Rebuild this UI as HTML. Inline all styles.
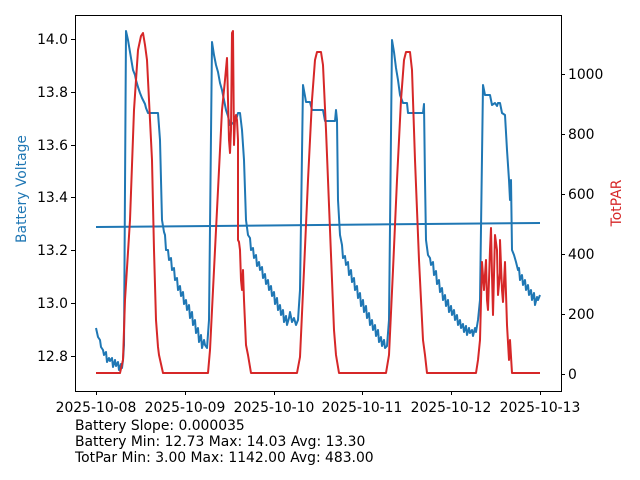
<!DOCTYPE html>
<html><head><style>body{margin:0;background:#fff}svg{display:block}text{font-family:"DejaVu Sans","Liberation Sans",sans-serif;font-size:13.9px;fill:#000}</style></head><body>
<svg width="640" height="480" viewBox="0 0 640 480" xmlns="http://www.w3.org/2000/svg">
<rect width="640" height="480" fill="#fff"/>
<g fill="none" stroke-width="2" stroke-linejoin="round">
<polyline stroke="#1f77b4" points="96,227 540,223"/>
<polyline stroke="#1f77b4" points="96,328 98,337 100,340 101,347 103,350 104,355 106,352 107,362 109,358 110,361 112,358 113,367 115,360 116,366 118,362 119,370 121,364 122,368 123,360 124,345 126,31 128,40 131,58 133,70 135,75 136,80 138,87 140,93 142,98 143,100 145,104 146,108 148,113 158,113 160,140 162,220 164,232 165,235 166,250 168,250 169,260 171,258 172,270 174,268 175,280 177,278 178,290 180,286 181,296 183,292 184,304 186,300 187,310 189,305 190,318 192,312 193,325 195,320 196,333 198,328 199,342 201,335 202,348 204,340 205,345 207,348 209,320 212,42 214,55 216,65 218,72 220,83 222,90 224,100 226,110 228,116 230,125 233,123 236,120 238,113 240,113 242,130 244,160 246,220 248,235 250,238 251,250 253,248 254,258 256,255 257,266 259,262 260,270 262,267 263,278 265,274 266,284 268,280 269,290 271,286 272,296 274,292 275,304 277,298 278,310 280,305 281,315 283,310 284,322 286,316 287,325 289,318 290,312 292,322 294,318 296,325 298,320 300,290 303,85 305,96 306,102 310,102 312,110 323,110 325,121 335,121 336,110 337,120 338,200 340,235 342,245 343,258 345,256 346,265 348,262 349,275 351,270 352,282 354,278 355,290 357,286 358,298 360,293 361,306 363,300 364,312 366,306 367,318 369,313 370,325 372,320 373,330 375,325 376,336 378,330 379,342 381,337 382,346 384,340 385,348 387,346 389,320 392,40 394,52 396,68 398,80 400,95 403,103 407,103 408,113 423,113 424,104 425,180 426,240 428,255 430,258 431,265 433,262 434,275 436,271 437,284 439,280 440,292 442,288 443,300 445,295 446,306 448,300 449,312 451,306 452,315 454,310 455,320 457,315 458,325 460,320 461,328 463,324 464,332 466,326 467,335 469,328 470,333 472,330 473,336 475,328 476,332 478,320 480,300 483,85 485,95 490,95 492,105 495,103 497,106 498,103 500,103 502,113 505,115 507,150 509,180 510,200 511,180 512,250 514,255 516,262 518,270 519,268 520,280 522,275 523,285 525,280 526,290 528,285 529,295 531,290 532,300 534,293 535,305 537,297 538,300 540,295"/>
<polyline stroke="#d62728" points="96,373 120,373 123,360 125,300 130,220 134,110 138,50 141,36 143,33 145,45 147,60 149,100 152,160 154,250 156,320 158,347 159,355 163,373 208,373 210,350 214,270 218,190 222,110 225,80 227,58 228,100 229,140 230,153 231,130 232,33 233,31 234,145 235,120 236,115 237,120 238,140 238,240 239,242 240,250 241,280 242,290 243,270 244,300 246,345 248,355 251,373 297,373 300,357 304,270 308,180 312,100 315,60 317,52 321,52 323,65 326,130 330,230 334,330 336,355 339,373 386,373 389,355 393,270 397,180 401,100 404,60 406,52 410,52 412,70 415,160 419,260 423,340 425,355 427,373 476,373 478,360 480,340 482,262 484,290 486,260 487,300 488,310 490,250 491,228 492,275 493,315 495,235 497,250 498,295 500,273 500,240 502,290 503,302 505,262 507,325 509,360 510,340 512,373 540,373"/>
</g>
<rect x="75.5" y="15.5" width="486" height="376" fill="none" stroke="#000" stroke-width="1"/>
<g stroke="#000" stroke-width="1">
<path d="M75 356.5h-4M75 303.5h-4M75 250.5h-4M75 197.5h-4M75 145.5h-4M75 92.5h-4M75 39.5h-4"/>
<path d="M561 374.5h4M561 314.5h4M561 254.5h4M561 194.5h4M561 134.5h4M561 74.5h4"/>
<path d="M96.5 391v4M185.5 391v4M274.5 391v4M362.5 391v4M451.5 391v4M540.5 391v4"/>
</g>
<g text-anchor="end">
<text x="68" y="361">12.8</text><text x="68" y="308">13.0</text><text x="68" y="255">13.2</text><text x="68" y="202">13.4</text><text x="68" y="150">13.6</text><text x="68" y="97">13.8</text><text x="68" y="44">14.0</text>
</g>
<g>
<text x="568" y="379">0</text><text x="568" y="319">200</text><text x="568" y="259">400</text><text x="568" y="199">600</text><text x="568" y="139">800</text><text x="568" y="79">1000</text>
</g>
<g text-anchor="middle">
<text x="96" y="412">2025-10-08</text><text x="185" y="412">2025-10-09</text><text x="274" y="412">2025-10-10</text><text x="362" y="412">2025-10-11</text><text x="451" y="412">2025-10-12</text><text x="540" y="412">2025-10-13</text>
</g>
<text transform="translate(26,189) rotate(-90)" text-anchor="middle" style="fill:#1f77b4">Battery Voltage</text>
<text transform="translate(621,203) rotate(-90)" text-anchor="middle" style="fill:#d62728">TotPAR</text>
<text x="75" y="430">Battery Slope: 0.000035</text>
<text x="75" y="446">Battery Min: 12.73 Max: 14.03 Avg: 13.30</text>
<text x="75" y="462">TotPar Min: 3.00 Max: 1142.00 Avg: 483.00</text>
</svg>
</body></html>
